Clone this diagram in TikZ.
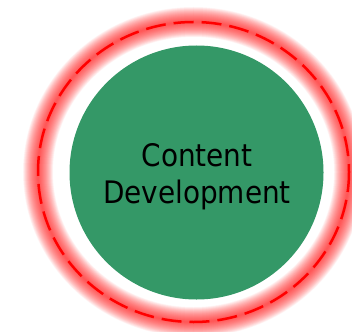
\documentclass[tikz,border=0pt]{standalone}
\usepackage{fontspec}
\newfontfamily\labelfont{DejaVu Sans Condensed}
\definecolor{cdgreen}{RGB}{52,152,103}
\begin{document}
\begin{tikzpicture}[x=1pt,y=-1pt,
  glowring/.style={draw=red,draw opacity=0.035},
  dashring/.style={draw=red,line width=2.5pt,dash pattern=on 20pt off 8pt},
  hub/.style={circle,fill=cdgreen,minimum size=254pt,inner sep=0pt},
  hubtext/.style={font=\labelfont\fontsize{31}{37}\selectfont,align=center,inner sep=0pt,text=black}]
\useasboundingbox (0,0) rectangle (352,331);
\clip (0,0) rectangle (352,331);
\foreach \w in {30,29,...,1}{
  \draw[glowring,line width=\w pt] (193.5,172) ellipse [x radius=155.5,y radius=150];
}
\draw[dashring] (193.5,172) ellipse [x radius=155.5,y radius=150];
\node[hub] (cd) at (196.5,172.5) {};
\node[hubtext] (cdtext) at (197,177) {Content\\Development};
\end{tikzpicture}
\end{document}
